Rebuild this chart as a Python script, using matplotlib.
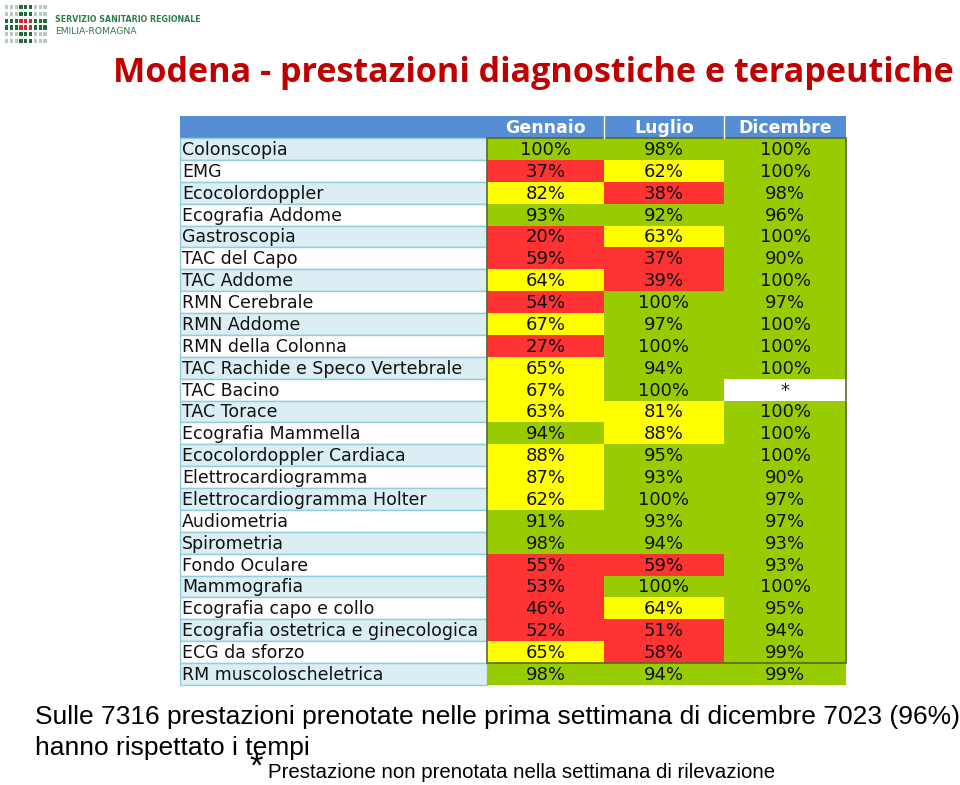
import numpy as np
import matplotlib
matplotlib.use('Agg')
from matplotlib import pyplot as plt
from matplotlib.patches import Rectangle

# table data
prestazioni = ['Colonscopia', 'EMG', 'Ecocolordoppler', 'Ecografia Addome', 'Gastroscopia',
               'TAC del Capo', 'TAC Addome', 'RMN Cerebrale', 'RMN Addome', 'RMN della Colonna',
               'TAC Rachide e Speco Vertebrale', 'TAC Bacino', 'TAC Torace', 'Ecografia Mammella',
               'Ecocolordoppler Cardiaca', 'Elettrocardiogramma', 'Elettrocardiogramma Holter',
               'Audiometria', 'Spirometria', 'Fondo Oculare', 'Mammografia', 'Ecografia capo e collo',
               'Ecografia ostetrica e ginecologica', 'ECG da sforzo', 'RM muscoloscheletrica']
mesi = ['Gennaio', 'Luglio', 'Dicembre']
gennaio = [100, 37, 82, 93, 20, 59, 64, 54, 67, 27, 65, 67, 63, 94, 88, 87, 62, 91, 98, 55, 53, 46, 52, 65, 98]
luglio = [98, 62, 38, 92, 63, 37, 39, 100, 97, 100, 94, 100, 81, 88, 95, 93, 100, 93, 94, 59, 100, 64, 51, 58, 94]
dicembre = [100, 100, 98, 96, 100, 90, 100, 97, 100, 100, 100, None, 100, 100, 100, 90, 97, 97, 93, 93, 100, 95, 94, 99, 99]

titolo = 'Modena - prestazioni diagnostiche e terapeutiche'
nota1 = 'Sulle 7316 prestazioni prenotate nelle prima settimana di dicembre 7023 (96%)'
nota2 = 'hanno rispettato i tempi'
nota3 = 'Prestazione non prenotata nella settimana di rilevazione'

GREEN = '#99CC00'
YELLOW = '#FFFF00'
RED = '#FF3333'


def _colore(v):
    if v is None:
        return 'white'
    if v >= 90:
        return GREEN
    if v >= 60:
        return YELLOW
    return RED


fig = plt.figure(figsize=(9.6, 7.85), dpi=100)
ax = fig.add_axes([0, 0, 1, 1])
ax.set_xlim(0, 960)
ax.set_ylim(785, 0)
ax.axis('off')
renderer = fig.canvas.get_renderer()


def _fit(t, width):
    # scale font size so the text spans the given pixel width
    w = t.get_window_extent(renderer).width
    t.set_fontsize(t.get_fontsize() * width / w)
    return t.get_fontsize()


# logo (dot grid + name)
logo = ['gggGGGggg',
        'gggGGGggg',
        'GGGRRRGGG',
        'GGGRRRGGG',
        'gggGGGggg',
        'gggGGGggg']
cols = {'g': '#b9c9bd', 'G': '#1f6b3a', 'R': '#d9232e'}
for r, row in enumerate(logo):
    for c, k in enumerate(row):
        ax.add_patch(Rectangle((5 + c * 4.8, 5 + r * 6.8), 3.2, 4.2, color=cols[k], lw=0))
t = ax.text(55, 20, 'SERVIZIO SANITARIO REGIONALE', fontsize=6.5, fontweight='bold',
            color='#2e7d4a', va='center', family='DejaVu Sans Condensed')
_fit(t, 145)
t = ax.text(55, 32, 'EMILIA-ROMAGNA', fontsize=6.5, color='#2e7d4a', va='center',
            family='DejaVu Sans Condensed')
_fit(t, 82)

# title
t = ax.text(113, 73, titolo, fontsize=26, fontweight='bold', color='#C00000',
            va='center', ha='left', family='Open Sans')
_fit(t, 844)

# table geometry
x_lab = 180
x_cols = [487, 604, 724, 846]
y_head = 116
h_head = 22
h_row = 21.875
y0 = y_head + h_head

# font sizes fitted to the reference widths
tmp = ax.text(0, 0, 'Ecografia ostetrica e ginecologica', fontsize=12)
fs_lab = _fit(tmp, 293)
tmp.remove()
tmp = ax.text(0, 0, '100%', fontsize=12)
fs_val = _fit(tmp, 51)
tmp.remove()

# header
ax.add_patch(Rectangle((x_lab, y_head), x_cols[-1] - x_lab, h_head, color='#558ED5', lw=0))
for j, m in enumerate(mesi):
    xc = (x_cols[j] + x_cols[j + 1]) / 2
    ax.text(xc, y_head + h_head / 2 + 1, m, fontsize=fs_lab, fontweight='bold', color='white',
            ha='center', va='center')
    if j > 0:
        ax.plot([x_cols[j], x_cols[j]], [y_head, y_head + h_head], color='white', lw=1)

valori = [gennaio, luglio, dicembre]
for i, lab in enumerate(prestazioni):
    y = y0 + i * h_row
    bg = '#DAEEF3' if i % 2 == 0 else 'white'
    ax.add_patch(Rectangle((x_lab, y), x_cols[0] - x_lab, h_row, facecolor=bg,
                           edgecolor='#92CDDC', lw=1))
    ax.text(x_lab + 2, y + h_row / 2 + 1, lab, fontsize=fs_lab, color='#111111',
            ha='left', va='center')
    for j in range(3):
        v = valori[j][i]
        ax.add_patch(Rectangle((x_cols[j], y), x_cols[j + 1] - x_cols[j], h_row,
                               color=_colore(v), lw=0))
        s = '*' if v is None else '%d%%' % v
        ax.text((x_cols[j] + x_cols[j + 1]) / 2, y + h_row / 2 + 1, s, fontsize=fs_val,
                color='#111111', ha='center', va='center')

# dark frame around value block (all rows but the last)
ax.add_patch(Rectangle((x_cols[0], y0), x_cols[-1] - x_cols[0], h_row * (len(prestazioni) - 1),
                       fill=False, edgecolor='#556b2f', lw=1.2))

# notes
t1 = ax.text(35, 717, nota1, fontsize=16, color='black', va='center', ha='left',
             family='Liberation Sans')
_fit(t1, 924)
ax.text(35, 748, nota2, fontsize=t1.get_fontsize(), color='black', va='center', ha='left',
        family='Liberation Sans')
ax.text(249, 777, '*', fontsize=25, color='black', va='baseline', ha='left',
        family='Liberation Sans')
t3 = ax.text(268, 773, nota3, fontsize=12, color='black', va='center', ha='left',
             family='Liberation Sans')
_fit(t3, 508)

fig.savefig('out.png', dpi=100)
plt.close(fig)
